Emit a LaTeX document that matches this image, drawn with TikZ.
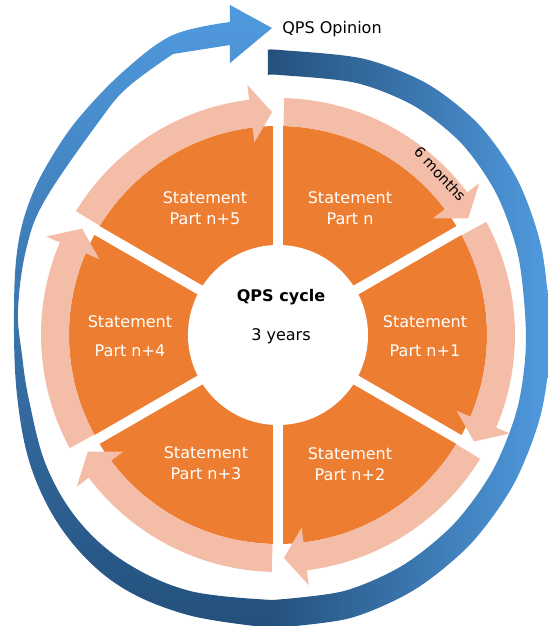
\documentclass[tikz,border=0pt]{standalone}
\usepackage{fontspec}
\setmainfont{DejaVu Sans}
\usepackage{tikz}
\usetikzlibrary{positioning}
\definecolor{segorange}{RGB}{237,125,49}
\definecolor{bandpink}{RGB}{244,189,167}
\definecolor{bluedark}{RGB}{36,80,124}
\definecolor{bluelight}{RGB}{80,154,222}
\newcommand{\labelfont}{\fontsize{11.4}{14.5}\selectfont}
\newcommand{\smalllabelfont}{\fontsize{10.2}{12}\selectfont}
\tikzset{
  seglabel/.style={text=white, align=center, font=\labelfont, inner sep=0pt},
  hubtext/.style={text=black, align=center, font=\labelfont, inner sep=0pt},
  gapline/.style={draw=white, line width=0.25cm},
  pinkarrow/.style={fill=bandpink},
  hub/.style={circle, fill=white, minimum size=4.5cm, inner sep=0pt},
}
% one pale arc arrow of the inner cycle, clockwise from #1 to the tip at #2
\newcommand{\cyclearrow}[2]{%
  \fill[pinkarrow] (#1:209) arc[start angle=#1, end angle=#2+5.5, radius=209]
    -- ({#2+5.5}:194) -- (#2:223) -- ({#2+5.5}:252) -- ({#2+5.5}:237)
    arc[start angle=#2+5.5, end angle=#1, radius=237] -- cycle;}

\begin{document}
\begin{tikzpicture}[x=0.025cm, y=0.025cm]
  \useasboundingbox (-278,-291) rectangle (269,335);

  % outer blue ring: right half from the tail, then left half with the head
  \shade[left color=bluedark, right color=bluelight]
    plot[smooth, tension=0.5] coordinates {(-10,285) (2,285) (85,276.4)
      (149.8,250.9) (201.7,209.5) (240.2,153.7) (264,84.5) (272,-5)
      (262.8,-79.5) (235.8,-149) (192.9,-208.6) (137,-254.4) (71.9,-283.2)
      (-5,-293)}
    -- plot[smooth, tension=0.5] coordinates {(-5,-265) (65.7,-256.1)
      (125,-230.2) (176,-188.8) (215,-135) (239.6,-72.3) (248,-5)
      (240.7,76.8) (219,140) (184,191) (136.6,228.8) (77.9,252.1) (2,260)
      (-10,260)}
    -- cycle;
  \shade[top color=bluelight, bottom color=bluedark]
    plot[smooth, tension=0.6] coordinates {(-5,-293) (-90,-280) (-160,-250)
      (-212,-200) (-246,-135) (-261,-60) (-264,25) (-260,90) (-246,140)
      (-222,185) (-195,222) (-153,265) (-105,300) (-48,313)}
    -- (-48,330) -- (-6,307) -- (-48,272) -- (-48,290)
    -- plot[smooth, tension=0.6] coordinates {(-105,281) (-150,248) (-178,215)
      (-233,135) (-252,85) (-260,25) (-256,-20) (-249,-65) (-232,-130)
      (-200,-185) (-153,-227) (-88,-256) (-5,-265)}
    -- cycle;

  % sectors and the pale arrows
  \fill[segorange] (0,0) circle[radius=209];
  \foreach \a/\b in {148.5/91.5, 88.5/31.5, 28.5/-28.5, -31.5/-88.5,
                     -91.5/-148.5, 208.5/151.5}
    \cyclearrow{\a}{\b};
  \foreach \g in {90,30,-30,-90,-150,-210}
    \draw[gapline] (0,0) -- (\g:242);
  \node[hub] (hub) at (0,0) {};

  \node[seglabel] (pn)  at (72,127)  {Statement\\Part n};
  \node[seglabel] (pn1) at (147,-1)  {Statement\\[0.2cm]Part n+1};
  \node[seglabel] (pn2) at (72,-129) {Statement\\Part n+2};
  \node[seglabel] (pn3) at (-72,-128){Statement\\Part n+3};
  \node[seglabel] (pn4) at (-148,-1) {Statement\\[0.2cm]Part n+4};
  \node[seglabel] (pn5) at (-73,127) {Statement\\Part n+5};

  \node[hubtext, font=\labelfont\bfseries] (cycle) at (3,38) {QPS cycle};
  \node[hubtext] (years) at (3,-1) {3 years};
  \node[hubtext] (opinion) at (54,306) {QPS Opinion};
  \node[hubtext, font=\smalllabelfont, rotate=-47] (months) at (162,161) {6 months};
\end{tikzpicture}
\end{document}
